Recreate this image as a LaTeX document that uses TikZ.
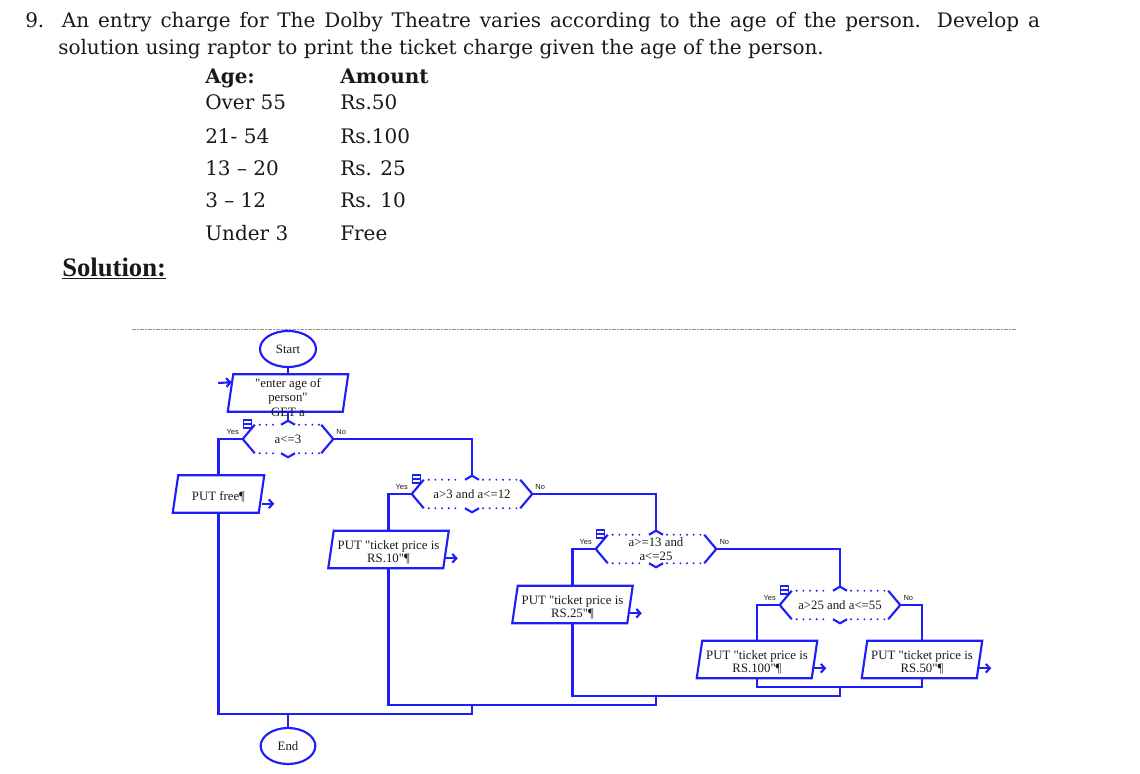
\documentclass[tikz,border=0pt]{standalone}
\usepackage{fontspec}
\setmainfont{DejaVu Serif}
\newfontfamily\timesfont{Liberation Serif}
\newfontfamily\arialfont{Liberation Sans}
\usetikzlibrary{calc,arrows.meta,shapes.geometric}
\definecolor{flow}{RGB}{30,30,250}
\definecolor{ink}{RGB}{25,25,25}
\definecolor{sepgray}{RGB}{150,150,150}
\newcommand\bodyfont{\fontsize{15pt}{18pt}\selectfont}
\newcommand\flowfont{\timesfont\fontsize{9.6pt}{9.6pt}\selectfont}
\newcommand\ynfont{\arialfont\fontsize{5.6pt}{6pt}\selectfont}
\newcommand\topstrut{\rule{0pt}{11pt}}
% decision: name, centre, width, text
\newcommand\decis[4]{%
  \node[dec, minimum width=#3] (#1) at #2 {#4};
  \coordinate (#1in) at ($(#1.north)+(0,-4)$);
  \draw[line] ($(#1.north west)+(12,0)$) -- (#1.west) -- ($(#1.south west)+(12,0)$);
  \draw[line] ($(#1.north east)+(-12,0)$) -- (#1.east) -- ($(#1.south east)+(-12,0)$);
  \draw[line] ($(#1.north)+(-7,0)$) -- (#1in) -- ($(#1.north)+(7,0)$);
  \draw[line] ($(#1.south)+(-7,0)$) -- ($(#1.south)+(0,4)$) -- ($(#1.south)+(7,0)$);
  \draw[dotline] ($(#1.north west)+(17,0)$) -- ($(#1.north)+(-10,0)$);
  \draw[dotline] ($(#1.north)+(11,0)$) -- ($(#1.north east)+(-14,0)$);
  \draw[dotline] ($(#1.south west)+(17,0)$) -- ($(#1.south)+(-10,0)$);
  \draw[dotline] ($(#1.south)+(11,0)$) -- ($(#1.south east)+(-14,0)$);
  \draw[icon] ($(#1.west)+(1,-19)$) rectangle ($(#1.west)+(9,-11)$);
  \draw[icon] ($(#1.west)+(1,-15)$) -- ($(#1.west)+(9,-15)$);
  \node[yn] (#1yes) at ($(#1.west)+(-10,-7)$) {Yes};
  \node[yn] (#1no) at ($(#1.east)+(8,-7)$) {No};
}
% input/output box: name, centre, total width, text
\newcommand\iob[4]{%
  \node[iorect, minimum width=#3] (#1) at #2 {#4};
  \draw[line] (#1.south west) -- ($(#1.north west)+(5.5,0)$) -- (#1.north east)
    -- ($(#1.south east)+(-5.5,0)$) -- cycle;
}
\begin{document}
\begin{tikzpicture}[x=0.75pt,y=-0.75pt,
  line/.style={draw=flow, line width=1.6pt},
  dotline/.style={draw=flow, line width=1.6pt, line cap=round, dash pattern=on 0pt off 5pt},
  body/.style={anchor=base west, inner sep=0pt, font=\bodyfont, text=ink},
  boldbody/.style={body, font=\bodyfont\bfseries},
  iorect/.style={rectangle, inner sep=0pt, minimum height=27.75pt, align=center, font=\flowfont, text=ink},
  term/.style={ellipse, draw=flow, line width=1.6pt, inner sep=0pt, minimum width=42pt, minimum height=27pt, font=\flowfont, text=ink},
  dec/.style={rectangle, inner sep=0pt, minimum height=21pt, align=center, font=\flowfont, text=ink},
  yn/.style={inner sep=0pt, font=\ynfont, text=ink},
  outarrow/.style={line, -{Straight Barb[length=3pt,width=6.5pt]}},
  icon/.style={draw=flow, line width=0.9pt},
  sepline/.style={draw=sepgray, line width=0.6pt, dash pattern=on 3pt off 1pt on 1pt off 1pt},
]
\useasboundingbox (0,0) rectangle (1140,774);

% ---- question text ----
\node[body] (num) at (25,27.3) {9.};
\node[body] (l1) at (61.7,27.3) {\makebox[733.5pt][s]{An entry charge for The Dolby Theatre varies according to the age of the person. Develop a}};
\node[body] (l2) at (58,55) {solution using raptor to print the ticket charge given the age of the person.};
\node[boldbody] (hage) at (205,83.3) {Age:};
\node[boldbody] (hamt) at (340,83.3) {Amount};
\node[body] (a1) at (205,110) {Over 55};   \node[body] (r1) at (340,110) {Rs.50};
\node[body] (a2) at (205,144) {21- 54};    \node[body] (r2) at (340,144) {Rs.100};
\node[body] (a3) at (205,175.5) {13 – 20}; \node[body] (r3) at (340,175.5) {Rs. 25};
\node[body] (a4) at (205,207.5) {3 – 12};  \node[body] (r4) at (340,207.5) {Rs. 10};
\node[body] (a5) at (205,240.5) {Under 3}; \node[body] (r5) at (340,240.5) {Free};
\node[body, font=\timesfont\bfseries\fontsize{20pt}{22pt}\selectfont] (sol) at (62,276) {\underline{Solution:}};

\draw[sepline] (132,329) -- (1016,329);

% ---- flowchart ----
\node[term] (start) at (288,349) {Start};
\iob{in}{(288,393)}{90pt}{}
\node[inner sep=0pt, align=center, font=\timesfont\fontsize{9.6pt}{11pt}\selectfont, text=ink] (intext) at (288,397.5) {"enter age of\\person"\\GET a};
\decis{d1}{(288,439)}{67.5pt}{a<=3}
\iob{free}{(218.5,494)}{68.25pt}{\topstrut PUT free¶}
\decis{d2}{(472,494)}{90pt}{a>3 and a<=12}
\iob{p10}{(388.5,549.5)}{90pt}{\topstrut PUT "ticket price is\\RS.10"¶}
\decis{d3}{(656,549)}{90pt}{a>=13 and\\[0.5pt]a<=25}
\iob{p25}{(572.5,604.5)}{90pt}{\topstrut PUT "ticket price is\\RS.25"¶}
\decis{d4}{(840,605)}{90pt}{a>25 and a<=55}
\iob{p100}{(757,659.5)}{90pt}{\topstrut PUT "ticket price is\\RS.100"¶}
\iob{p50}{(922,659.5)}{90pt}{\topstrut PUT "ticket price is\\RS.50"¶}
\node[term, minimum width=41pt] (end) at (288,746) {End};

% junctions
\coordinate (j4) at (840,687);
\coordinate (j3) at (656,696);
\coordinate (j2) at (472,705);
\coordinate (j1) at (288,714);

% connectors
\draw[line] (start) -- (in);
\draw[line] (in) -- (d1in);
\draw[line] (d1.west) -| (free);
\draw[line] (d1.east) -| (d2in);
\draw[line] (d2.west) -| (p10);
\draw[line] (d2.east) -| (d3in);
\draw[line] (d3.west) -| (p25);
\draw[line] (d3.east) -| (d4in);
\draw[line] (d4.west) -| (p100);
\draw[line] (d4.east) -| (p50);
\draw[line] (p100) |- (j4);
\draw[line] (p50) |- (j4);
\draw[line] (j4) |- (j3);
\draw[line] (p25) |- (j3);
\draw[line] (j3) |- (j2);
\draw[line] (p10) |- (j2);
\draw[line] (j2) |- (j1);
\draw[line] (free) |- (j1);
\draw[line] (j1) -- (end);

% input and output arrows
\coordinate (inarrow) at (218,383);
\draw[outarrow] (inarrow) -- ($(in.north west)+(4,8)$);
\draw[outarrow] ($(free.south east)+(-2,-9)$) -- ++(12,0);
\draw[outarrow] ($(p10.south east)+(-3,-10)$) -- ++(12,0);
\draw[outarrow] ($(p25.south east)+(-3,-10)$) -- ++(12,0);
\draw[outarrow] ($(p100.south east)+(-3,-10)$) -- ++(12,0);
\draw[outarrow] ($(p50.south east)+(-3,-10)$) -- ++(12,0);
\end{tikzpicture}
\end{document}
